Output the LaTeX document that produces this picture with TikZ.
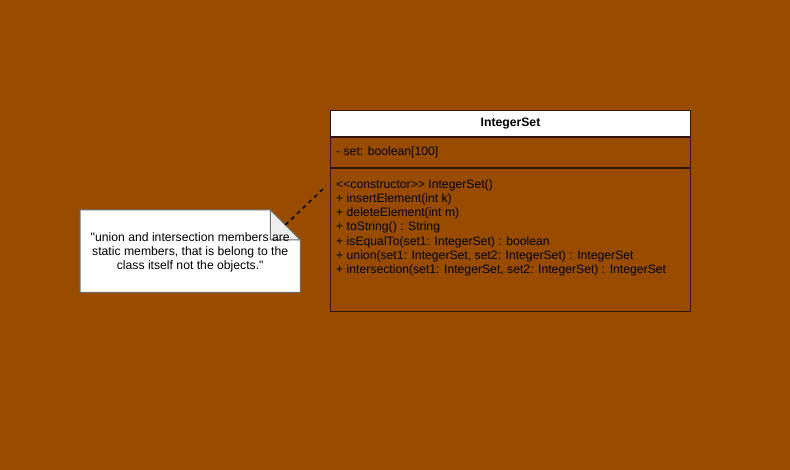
\documentclass[tikz,border=0pt]{standalone}
\usepackage{fontspec}
\setmainfont{Liberation Sans}[Ligatures=NoCommon]
\usetikzlibrary{positioning,calc}
\definecolor{umlbrown}{HTML}{994C00}
\definecolor{umlline}{HTML}{2E1700}
\definecolor{notegray}{HTML}{6E6E6E}
\definecolor{foldgray}{HTML}{EEEEEE}

\begin{document}
\begin{tikzpicture}[
  x=1pt,y=-1pt,
  f/.style={font=\fontsize{12.2}{14.3}\selectfont},
  part/.style={draw=umlline,line width=1pt,minimum width=360pt,inner sep=0pt},
  txt/.style={f,align=left,inner sep=0pt,anchor=north west},
  notetxt/.style={f,align=center,inner sep=0pt},
  link/.style={draw=black,line width=1.5pt,dash pattern=on 4pt off 4pt}
]
\useasboundingbox[fill=umlbrown] (0,0) rectangle (790,470);
% class box
\node[part,fill=white,minimum height=26pt,anchor=north west] (head) at (330,110) {};
\node[f,font=\fontsize{12.2}{14.3}\selectfont\bfseries] (name) at (head.center) {IntegerSet};
\node[part,minimum height=30pt,anchor=north west] (attr) at (head.south west) {};
\node[txt,anchor=west] (attrtxt) at ($(attr.west)+(6,0)$) {- set: boolean[100]};
\node[part,minimum height=143pt,anchor=north west] (ops) at (attr.south west) {};
\node[txt] (opstxt) at ($(ops.north west)+(6,11)$) {%
\textless{}\textless{}constructor\textgreater{}\textgreater{} IntegerSet()\\
+ insertElement(int k)\\
+ deleteElement(int m)\\
+ toString() : String\\
+ isEqualTo(set1: IntegerSet) : boolean\\
+ union(set1: IntegerSet, set2: IntegerSet) : IntegerSet\\
+ intersection(set1: IntegerSet, set2: IntegerSet) : IntegerSet};
% note
\node[minimum width=220pt,minimum height=82pt,inner sep=0pt,anchor=north west] (note) at (80,210) {};
\draw[draw=notegray,fill=white,line width=1pt]
  (note.north west) -- ($(note.north east)+(-30,0)$) -- ($(note.north east)+(0,30)$)
  -- (note.south east) -- (note.south west) -- cycle;
\draw[draw=notegray,fill=foldgray,line width=1pt]
  ($(note.north east)+(-30,0)$) -- ($(note.north east)+(-30,30)$) -- ($(note.north east)+(0,30)$) -- cycle;
\node[notetxt] (notetxt) at ($(note.center)+(0,1)$) {\textquotedbl union and intersection members are\\static members, that is belong to the\\class itself not the objects.\textquotedbl};
\coordinate (tip) at ($(ops.north west)+(-4,18)$);
\draw[link] ($(note.north east)+(-15,15)$) -- (tip);
\end{tikzpicture}
\end{document}
